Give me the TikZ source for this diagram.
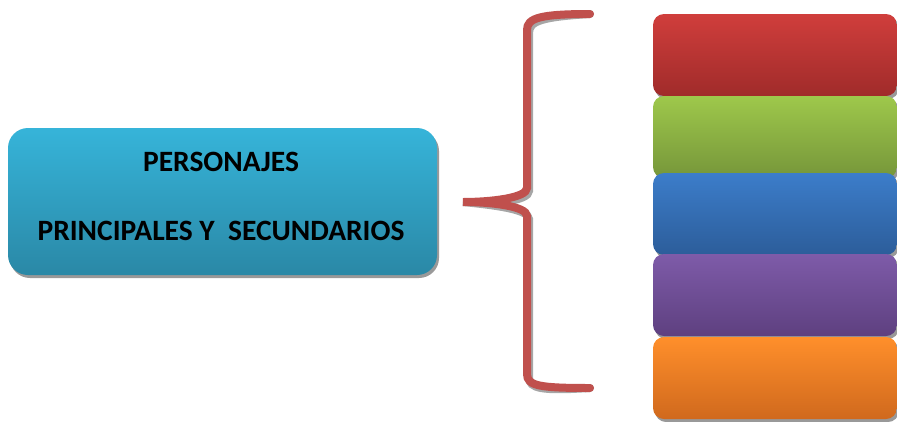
\documentclass[tikz,border=0pt]{standalone}
\usepackage{fontspec}
\setmainfont{Carlito}
\usetikzlibrary{shadows}
\definecolor{cyantop}{HTML}{36B4D9}
\definecolor{cyanbot}{HTML}{2A88A6}
\definecolor{bracered}{HTML}{C0504D}
\definecolor{redtop}{HTML}{D03E3C}
\definecolor{redbot}{HTML}{A02B2A}
\definecolor{greentop}{HTML}{9EC84B}
\definecolor{greenbot}{HTML}{76963A}
\definecolor{bluetop}{HTML}{3C7DCA}
\definecolor{bluebot}{HTML}{2C5D9A}
\definecolor{purpletop}{HTML}{7E5BA9}
\definecolor{purplebot}{HTML}{5E4080}
\definecolor{orangetop}{HTML}{FF8F2B}
\definecolor{orangebot}{HTML}{D0691D}
\tikzset{
  boxshadow/.style={drop shadow={shadow xshift=2pt,shadow yshift=-3pt,fill=black!40,opacity=1}},
  mainbox/.style={rounded corners=20pt,minimum width=429pt,minimum height=147pt,
    top color=cyantop,bottom color=cyanbot,boxshadow},
  maintext/.style={align=center,font=\fontsize{29.5}{35}\selectfont\bfseries},
  stackbox/.style={rounded corners=11pt,minimum width=244pt,minimum height=82pt,boxshadow}
}
\begin{document}
\begin{tikzpicture}[x=1pt,y=-1pt]
  \useasboundingbox (0,0) rectangle (897,421);
  % left box
  \node[mainbox] (personajes) at (222.5,201.5) {};
  \node[maintext] (personajestext) at (221,196) {PERSONAJES\\[34pt]PRINCIPALES Y\ \ SECUNDARIOS};
  % brace
  \coordinate (btop) at (590,14); \coordinate (bmid) at (463,202); \coordinate (bbot) at (590,388);
  \begin{scope}[line width=8pt,line cap=round]
    \draw[black!35,shift={(2,3)}] (btop) .. controls (540,14) and (527,18) .. (527,30) -- (527,188)
      .. controls (527,198) and (490,202) .. (bmid) .. controls (490,202) and (527,206) .. (527,216)
      -- (527,374) .. controls (527,386) and (540,388) .. (bbot);
    \draw[bracered] (btop) .. controls (540,14) and (527,18) .. (527,30) -- (527,188)
      .. controls (527,198) and (490,202) .. (bmid) .. controls (490,202) and (527,206) .. (527,216)
      -- (527,374) .. controls (527,386) and (540,388) .. (bbot);
  \end{scope}
  % stacked boxes
  \foreach \name/\ypos/\col in {r1/55/red,r2/137/green,r3/214/blue,r4/295/purple,r5/378/orange}{
    \node[stackbox,top color=\col top,bottom color=\col bot] (\name) at (775,\ypos) {};
  }
\end{tikzpicture}
\end{document}
